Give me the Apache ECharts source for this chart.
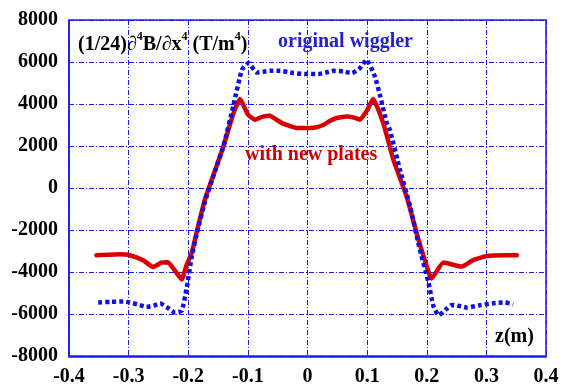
<!DOCTYPE html>
<html>
<head>
<meta charset="utf-8">
<script src="https://cdn.jsdelivr.net/npm/echarts@6/dist/echarts.min.js"></script>
<style>
html,body{margin:0;padding:0;background:#fff;}
#chart{width:570px;height:387px;}
</style>
</head>
<body>
<div id="chart"></div>
<script>
// ---- data ----
var xTicks = [-0.4, -0.3, -0.2, -0.1, 0, 0.1, 0.2, 0.3, 0.4];
var yTicks = [-8000, -6000, -4000, -2000, 0, 2000, 4000, 6000, 8000];

var newPlatesZ = [-0.354,-0.315,-0.298,-0.275,-0.259,-0.245,-0.234,-0.222,-0.211,-0.203,-0.194,-0.185,-0.172,-0.157,-0.141,-0.124,-0.113,-0.100,-0.088,-0.075,-0.063,-0.052,-0.041,-0.029,-0.018,0.004,0.016,0.027,0.038,0.049,0.066,0.078,0.088,0.100,0.110,0.127,0.144,0.166,0.186,0.197,0.208,0.228,0.259,0.278,0.301,0.329,0.351];
var newPlatesB = [-3206,-3160,-3200,-3450,-3760,-3555,-3540,-3950,-4350,-3680,-3080,-2000,-546,680,1985,3570,4237,3500,3254,3400,3444,3250,3064,2950,2860,2860,2900,3016,3200,3334,3410,3350,3254,3700,4237,3097,1354,-390,-2446,-3450,-4313,-3553,-3743,-3430,-3240,-3206,-3206];

var originalZ = [-0.351,-0.330,-0.309,-0.298,-0.284,-0.270,-0.258,-0.247,-0.235,-0.222,-0.211,-0.203,-0.194,-0.185,-0.172,-0.157,-0.141,-0.124,-0.110,-0.099,-0.085,-0.074,-0.063,-0.046,-0.024,-0.001,0.018,0.031,0.043,0.060,0.074,0.088,0.099,0.113,0.122,0.133,0.138,0.155,0.172,0.187,0.203,0.211,0.220,0.234,0.242,0.255,0.267,0.289,0.312,0.331,0.345];
var originalB = [-5453,-5420,-5405,-5453,-5550,-5660,-5600,-5500,-5690,-5928,-5850,-4821,-3240,-2100,-650,650,1985,3966,5630,5947,5500,5540,5581,5581,5472,5424,5424,5500,5581,5548,5472,5709,6104,5310,4360,3097,2779,879,-864,-2764,-4503,-5614,-6056,-5738,-5566,-5620,-5690,-5581,-5486,-5453,-5533];

function zip(a, b) { return a.map(function (v, i) { return [v, b[i]]; }); }

var FONT = '"Liberation Serif", "Times New Roman", serif';
var GRID_COLOR = '#1a1aee';

var chart = echarts.init(document.getElementById('chart'), null, {renderer: 'canvas'});
var option = {
  animation: false,
  backgroundColor: '#ffffff',
  grid: {left: 69, right: 24, top: 20, bottom: 30, show: false},
  xAxis: {
    type: 'value',
    min: xTicks[0], max: xTicks[xTicks.length - 1], interval: 0.1,
    axisLine: {show: true, onZero: false, lineStyle: {color: GRID_COLOR, width: 1.5}},
    axisTick: {show: false},
    axisLabel: {
      margin: 11, color: '#000', fontFamily: FONT, fontWeight: 'bold', fontSize: 20,
      formatter: function (v) { var r = Math.round(v * 10) / 10; return r === 0 ? '0' : r.toFixed(1); }
    },
    splitLine: {show: true, lineStyle: {color: GRID_COLOR, width: 1, type: [5, 2, 1, 2]}}
  },
  yAxis: {
    type: 'value',
    min: yTicks[0], max: yTicks[yTicks.length - 1], interval: 2000,
    axisLine: {show: true, onZero: false, lineStyle: {color: GRID_COLOR, width: 1.5}},
    axisTick: {show: false},
    axisLabel: {
      margin: 11, color: '#000', fontFamily: FONT, fontWeight: 'bold', fontSize: 20,
      formatter: function (v) { return String(Math.round(v)); }
    },
    splitLine: {show: true, lineStyle: {color: GRID_COLOR, width: 1, type: [5, 2, 1, 2]}}
  },
  series: [
    {
      name: 'with new plates', type: 'line', data: zip(newPlatesZ, newPlatesB),
      showSymbol: false, smooth: 0.15, z: 3,
      lineStyle: {color: '#d80000', width: 4.5, cap: 'round', join: 'round'}
    },
    {
      name: 'original wiggler', type: 'line', data: zip(originalZ, originalB),
      showSymbol: false, smooth: 0.15, z: 4,
      lineStyle: {color: '#1010e0', width: 4.5, type: [4, 3]}
    }
  ],
  graphic: [
    {type: 'rect', shape: {x: 69, y: 20, width: 477, height: 337}, style: {fill: 'none', stroke: GRID_COLOR, lineWidth: 1.5}, silent: true, z: 10},
    {
      type: 'text', left: 78, top: 31, z: 20,
      style: {
        text: '{a|(1/24)∂}{s|4}{a|B/∂x}{s|4}{a| (T/m}{s|4}{a|)}',
        rich: {
          a: {fontFamily: FONT, fontWeight: 'bold', fontSize: 20, fill: '#000', lineHeight: 24, verticalAlign: 'bottom'},
          s: {fontFamily: FONT, fontWeight: 'bold', fontSize: 12, fill: '#000', lineHeight: 24, verticalAlign: 'top'}
        }
      }
    },
    {type: 'text', left: 278, top: 32, z: 20, style: {text: 'original wiggler', fontFamily: FONT, fontWeight: 'bold', fontSize: 20, fill: '#2222d0'}},
    {type: 'text', left: 245, top: 145, z: 20, style: {text: 'with new plates', fontFamily: FONT, fontWeight: 'bold', fontSize: 20, fill: '#d00000'}},
    {type: 'text', left: 495, top: 327, z: 20, style: {text: 'z(m)', fontFamily: FONT, fontWeight: 'bold', fontSize: 20, fill: '#000'}}
  ]
};
chart.setOption(option);
</script>
</body>
</html>
